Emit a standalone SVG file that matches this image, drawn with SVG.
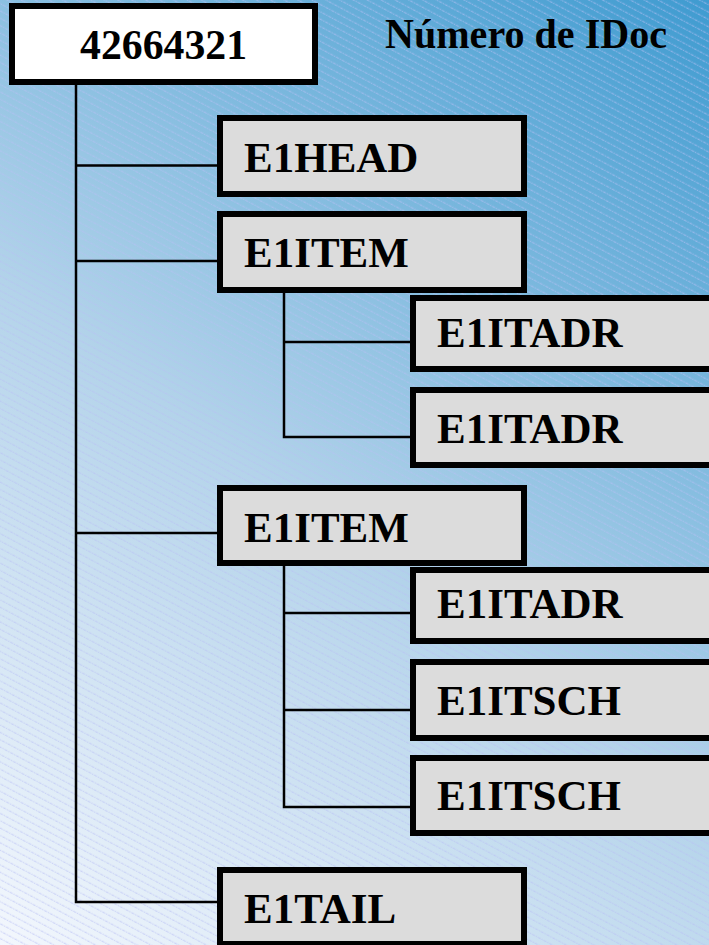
<svg xmlns="http://www.w3.org/2000/svg" width="709" height="945" viewBox="0 0 709 945">
<style>
.box{fill:#dcdcdc;stroke:#000;stroke-width:6}
.root{fill:#fff;stroke:#000;stroke-width:6}
.lbl{font-family:"Liberation Serif","Times New Roman",serif;font-weight:bold;font-size:43px;fill:#000}
.conn{fill:none;stroke:#000;stroke-width:2.5}
</style>
<defs>
<linearGradient id="bg" x1="0" y1="945" x2="709" y2="0" gradientUnits="userSpaceOnUse">
<stop offset="0" stop-color="#f3f7fd"/>
<stop offset="0.45" stop-color="#b3d3ea"/>
<stop offset="1" stop-color="#3f9bd0"/>
</linearGradient>
<pattern id="hatch" width="6.5" height="6.5" patternUnits="userSpaceOnUse" patternTransform="rotate(28)">
<line x1="0" y1="3" x2="6.5" y2="3" stroke="#b8bef5" stroke-width="1" stroke-opacity="0.75" stroke-dasharray="1.5 1"/>
</pattern>
</defs>
<rect width="709" height="945" fill="url(#bg)"/>
<rect width="709" height="945" fill="url(#hatch)"/>
<g id="connectors">
<path class="conn" d="M76 85 V902 H217 M76 165.5 H217 M76 261 H217 M76 533 H217"/>
<path class="conn" d="M284 293 V437 H410 M284 342 H410"/>
<path class="conn" d="M284 566 V807 H410 M284 613 H410 M284 710 H410"/>
</g>
<g id="root">
<rect class="root" x="12" y="6" width="303" height="76"/>
<text class="lbl" x="80" y="59" font-size="40" textLength="167" lengthAdjust="spacingAndGlyphs">42664321</text>
</g>
<g id="title">
<text class="lbl" x="385" y="48" font-size="37" textLength="282" lengthAdjust="spacingAndGlyphs">Número de IDoc</text>
</g>
<g id="e1head">
<rect class="box" x="220" y="118" width="304" height="76"/>
<text class="lbl" x="244" y="172">E1HEAD</text>
</g>
<g id="e1item1">
<rect class="box" x="220" y="214" width="304" height="76"/>
<text class="lbl" x="244" y="267">E1ITEM</text>
</g>
<g id="e1itadr1">
<rect class="box" x="413" y="298" width="310" height="71"/>
<text class="lbl" x="437" y="347">E1ITADR</text>
</g>
<g id="e1itadr2">
<rect class="box" x="413" y="390" width="310" height="75"/>
<text class="lbl" x="437" y="443">E1ITADR</text>
</g>
<g id="e1item2">
<rect class="box" x="220" y="488" width="304" height="75"/>
<text class="lbl" x="244" y="542">E1ITEM</text>
</g>
<g id="e1itadr3">
<rect class="box" x="413" y="570" width="310" height="71"/>
<text class="lbl" x="437" y="618">E1ITADR</text>
</g>
<g id="e1itsch1">
<rect class="box" x="413" y="662" width="310" height="76"/>
<text class="lbl" x="437" y="715">E1ITSCH</text>
</g>
<g id="e1itsch2">
<rect class="box" x="413" y="758" width="310" height="75"/>
<text class="lbl" x="437" y="810">E1ITSCH</text>
</g>
<g id="e1tail">
<rect class="box" x="220" y="870" width="304" height="74"/>
<text class="lbl" x="244" y="923">E1TAIL</text>
</g>
</svg>
